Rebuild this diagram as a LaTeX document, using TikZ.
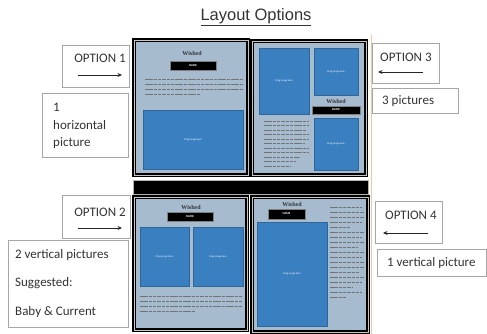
\documentclass[tikz,border=0pt]{standalone}
\usepackage{fontspec}
\setmainfont{Carlito}
\newfontfamily\headfont{Liberation Sans}
\newfontfamily\pageserif{Liberation Serif}
\usetikzlibrary{positioning, arrows.meta}
\definecolor{pagefill}{HTML}{A7BBCF}
\definecolor{picblue}{HTML}{3A7FC0}
\definecolor{boxline}{HTML}{A6A6A6}
\definecolor{edgeline}{HTML}{F6C699}

\tikzset{
  page/.style={draw, line width=1.5pt, double=gray!45, double distance=0.9pt, fill=pagefill, inner sep=0pt},
  photo/.style={fill=picblue, draw=picblue!80!black, line width=0.3pt, inner sep=0pt,
    text=white, font=\fontsize{2.6}{3}\selectfont},
  namebar/.style={fill=black, draw=gray, line width=0.4pt, inner sep=0pt, text=white,
    font=\fontsize{3}{3}\selectfont\bfseries},
  heading/.style={inner sep=0pt, font=\pageserif\fontsize{6}{6}\selectfont\bfseries, text=black!80},
  textline/.style={draw=black!55, line width=0.6pt, dash pattern=on 3.5pt off 0.8pt},
  optbox/.style={draw=boxline, line width=0.6pt, inner sep=0pt},
  label/.style={inner sep=0pt, font=\fontsize{13}{15}\selectfont, text=black!80},
  pointer/.style={-{Stealth[length=4.5pt,width=4pt]}, line width=0.8pt, black!85}
}

\begin{document}
\begin{tikzpicture}[x=1pt, y=-1pt]
  \useasboundingbox (0,0) rectangle (487,334);

  % title
  \node[inner sep=0pt, font=\headfont\fontsize{16.5}{18}\selectfont, text=black!80] at (256,17) (title) {\underline{Layout Options}};

  % frame edge
  \coordinate (edgetop) at (371,35);
  \coordinate (edgebot) at (371,334);
  \draw[edgeline, line width=0.8pt] (edgetop) -- (edgebot);

  % pages
  \node[page, minimum width=114pt, minimum height=135pt] at (191,107.5) (pageA) {};
  \node[page, minimum width=114pt, minimum height=134pt] at (309,108) (pageB) {};
  \node[fill=black, draw=gray!60, inner sep=0pt, minimum width=235pt, minimum height=14pt] at (250.5,187) (bar) {};
  \node[page, minimum width=113pt, minimum height=133pt] at (190.5,263.5) (pageC) {};
  \node[page, minimum width=116pt, minimum height=135pt] at (310,264.5) (pageD) {};

  % page A: 1 horizontal picture
  \node[heading] at (192,53) (headA) {Wished};
  \node[namebar, minimum width=46pt, minimum height=9pt] at (193,65.5) (nameA) {NAME};
  \foreach \y/\e in {79/243, 84/243, 89/243, 94/200}
    \draw[textline] (145,\y) -- (\e,\y);
  \node[photo, minimum width=100pt, minimum height=59pt] at (193,139.5) (picA) {Drag image here};

  % page B: 3 pictures
  \node[photo, minimum width=50pt, minimum height=66pt] at (284,81) (picBa) {Drag image here};
  \node[photo, minimum width=44pt, minimum height=47pt] at (336,71.5) (picBb) {Drag image here};
  \node[heading] at (336,101) (headB) {Wished};
  \node[namebar, minimum width=48pt, minimum height=8pt] at (336,110) (nameB) {NAME};
  \node[photo, minimum width=44pt, minimum height=52pt] at (336,144) (picBc) {Drag image here};
  \foreach \y/\e in {121/309, 125.5/309, 130/306, 134.5/309, 139/309, 143.5/305, 148/309, 152.5/309, 157/300, 161.5/296, 166/290}
    \draw[textline] (264,\y) -- (\e,\y);

  % page C: 2 vertical pictures
  \node[heading] at (191,207) (headC) {Wished};
  \node[namebar, minimum width=46pt, minimum height=9pt] at (190,216.5) (nameC) {NAME};
  \node[photo, minimum width=49pt, minimum height=59pt] at (164.5,256.5) (picCa) {Drag image here};
  \node[photo, minimum width=50pt, minimum height=59pt] at (218,256.5) (picCb) {Drag image here};
  \foreach \y/\e in {296/243, 301/243, 306/243, 311/195}
    \draw[textline] (140,\y) -- (\e,\y);

  % page D: 1 vertical picture
  \node[heading] at (292,204) (headD) {Wished};
  \node[namebar, minimum width=37pt, minimum height=10pt] at (286.5,214) (nameD) {NAME};
  \node[photo, minimum width=70pt, minimum height=104pt] at (292,274) (picD) {Drag image here};
  \foreach \y/\e in {207/362, 212/364, 217/364, 222/362, 227/350, 232/364, 237/362, 242/364, 247/358, 252/364, 257/362, 262/364, 267/364, 272/360, 277/364, 282/362, 287/352, 292/362, 297/346}
    \draw[textline] (330,\y) -- (\e,\y);

  % option 1
  \node[optbox, minimum width=67pt, minimum height=42pt] at (95.5,66) (opt1) {};
  \node[label] at (100,58) (opt1text) {OPTION 1};
  \coordinate (opt1from) at (78,75);
  \coordinate (opt1to) at (122,75);
  \draw[pointer] (opt1from) -- (opt1to);
  \node[optbox, minimum width=86pt, minimum height=64pt] at (85,125) (desc1) {};
  \node[label, anchor=west] at (53,107) (desc1a) {1};
  \node[label, anchor=west] at (53,125) (desc1b) {horizontal};
  \node[label, anchor=west] at (53,143) (desc1c) {picture};

  % option 2
  \node[optbox, minimum width=68pt, minimum height=43pt] at (96,216.5) (opt2) {};
  \node[label] at (100,212) (opt2text) {OPTION 2};
  \coordinate (opt2from) at (78,228);
  \coordinate (opt2to) at (122,228);
  \draw[pointer] (opt2from) -- (opt2to);
  \node[optbox, minimum width=120pt, minimum height=87pt] at (68,283.5) (desc2) {};
  \node[label, anchor=west] at (15,255) (desc2a) {2 vertical pictures};
  \node[label, anchor=west] at (15,283) (desc2b) {Suggested:};
  \node[label, anchor=west] at (15,312) (desc2c) {Baby \& Current};

  % option 3
  \node[optbox, minimum width=67pt, minimum height=40pt] at (405.5,63) (opt3) {};
  \node[label, anchor=west] at (380,57) (opt3text) {OPTION 3};
  \coordinate (opt3from) at (423,72);
  \coordinate (opt3to) at (378,72);
  \draw[pointer] (opt3from) -- (opt3to);
  \node[optbox, minimum width=86pt, minimum height=25pt] at (415,100.5) (desc3) {};
  \node[label, anchor=west] at (382,101) (desc3a) {3 pictures};

  % option 4
  \node[optbox, minimum width=67pt, minimum height=42pt] at (408.5,222) (opt4) {};
  \node[label, anchor=west] at (385,215) (opt4text) {OPTION 4};
  \coordinate (opt4from) at (428,233);
  \coordinate (opt4to) at (383,233);
  \draw[pointer] (opt4from) -- (opt4to);
  \node[optbox, minimum width=109pt, minimum height=27pt] at (431.5,262.5) (desc4) {};
  \node[label, anchor=west] at (387,263) (desc4a) {1 vertical picture};
\end{tikzpicture}
\end{document}
